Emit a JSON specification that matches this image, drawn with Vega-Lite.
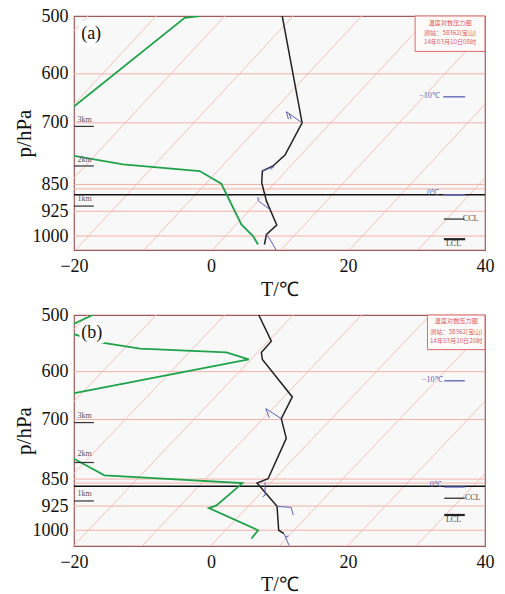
{
"$schema": "https://vega.github.io/schema/vega-lite/v6.json",
"padding": {"left": 12, "top": 6, "right": 5, "bottom": 0},
"spacing": 5,
"background": "white",
"config": {
 "view": {"fill": "#f8f8f8", "stroke": "#a05a5a", "strokeWidth": 1.2},
 "axis": {"labelFont": "Liberation Serif", "titleFont": "Liberation Serif"}
},
"datasets": {
 "iso": [
  {"k": -50, "i": 0, "T": -50, "p": 1050}, {"k": -50, "i": 1, "T": -18, "p": 500},
  {"k": -40, "i": 0, "T": -40, "p": 1050}, {"k": -40, "i": 1, "T": -8, "p": 500},
  {"k": -30, "i": 0, "T": -30, "p": 1050}, {"k": -30, "i": 1, "T": 2, "p": 500},
  {"k": -20, "i": 0, "T": -20, "p": 1050}, {"k": -20, "i": 1, "T": 12, "p": 500},
  {"k": -10, "i": 0, "T": -10, "p": 1050}, {"k": -10, "i": 1, "T": 22, "p": 500},
  {"k": 0, "i": 0, "T": 0, "p": 1050}, {"k": 0, "i": 1, "T": 32, "p": 500},
  {"k": 10, "i": 0, "T": 10, "p": 1050}, {"k": 10, "i": 1, "T": 42, "p": 500},
  {"k": 20, "i": 0, "T": 20, "p": 1050}, {"k": 20, "i": 1, "T": 52, "p": 500},
  {"k": 30, "i": 0, "T": 30, "p": 1050}, {"k": 30, "i": 1, "T": 62, "p": 500}
 ],
 "a_h": [
  {"k": 600, "i": 0, "T": -20, "p": 600}, {"k": 600, "i": 1, "T": 40, "p": 600},
  {"k": 700, "i": 0, "T": -20, "p": 700}, {"k": 700, "i": 1, "T": 40, "p": 700},
  {"k": 850, "i": 0, "T": -20, "p": 850}, {"k": 850, "i": 1, "T": 40, "p": 850},
  {"k": 862, "i": 0, "T": -20, "p": 862}, {"k": 862, "i": 1, "T": 40, "p": 862},
  {"k": 925, "i": 0, "T": -20, "p": 925}, {"k": 925, "i": 1, "T": 40, "p": 925},
  {"k": 1000, "i": 0, "T": -20, "p": 1000}, {"k": 1000, "i": 1, "T": 40, "p": 1000}
 ],
 "b_h": [
  {"k": 600, "i": 0, "T": -20, "p": 600}, {"k": 600, "i": 1, "T": 40, "p": 600},
  {"k": 700, "i": 0, "T": -20, "p": 700}, {"k": 700, "i": 1, "T": 40, "p": 700},
  {"k": 848, "i": 0, "T": -20, "p": 848}, {"k": 848, "i": 1, "T": 40, "p": 848},
  {"k": 859, "i": 0, "T": -20, "p": 859}, {"k": 859, "i": 1, "T": 40, "p": 859},
  {"k": 925, "i": 0, "T": -20, "p": 925}, {"k": 925, "i": 1, "T": 40, "p": 925},
  {"k": 1000, "i": 0, "T": -20, "p": 1000}, {"k": 1000, "i": 1, "T": 40, "p": 1000}
 ],
 "a_frz": [{"i": 0, "T": -20, "p": 878}, {"i": 1, "T": 40, "p": 878}],
 "b_frz": [{"i": 0, "T": -20, "p": 868}, {"i": 1, "T": 40, "p": 868}],
 "a_t": [
  {"i": 1, "T": 10.4, "p": 500}, {"i": 2, "T": 13.3, "p": 700}, {"i": 3, "T": 10.8, "p": 775},
  {"i": 4, "T": 9.05, "p": 802}, {"i": 5, "T": 7.5, "p": 815}, {"i": 6, "T": 7.4, "p": 845},
  {"i": 7, "T": 8.1, "p": 896}, {"i": 8, "T": 9.6, "p": 966}, {"i": 9, "T": 8.1, "p": 995},
  {"i": 10, "T": 7.8, "p": 1027}
 ],
 "a_td": [
  {"i": 1, "T": 6.86, "p": 1027}, {"i": 2, "T": 6.13, "p": 1000}, {"i": 3, "T": 4.43, "p": 964},
  {"i": 4, "T": 2.24, "p": 876}, {"i": 5, "T": 1.5, "p": 848}, {"i": 6, "T": -1.65, "p": 815},
  {"i": 7, "T": -12.85, "p": 798}, {"i": 8, "T": -20, "p": 777}, {"i": 9, "T": -32, "p": 730},
  {"i": 10, "T": -20, "p": 665}, {"i": 11, "T": -3.84, "p": 503}, {"i": 12, "T": -1.65, "p": 500}
 ],
 "b_t": [
  {"i": 1, "T": 6.97, "p": 500}, {"i": 2, "T": 8.81, "p": 544}, {"i": 3, "T": 7.35, "p": 564},
  {"i": 4, "T": 7.5, "p": 577}, {"i": 5, "T": 11.87, "p": 651}, {"i": 6, "T": 10.26, "p": 698},
  {"i": 7, "T": 10.99, "p": 744}, {"i": 8, "T": 8.33, "p": 847}, {"i": 9, "T": 6.72, "p": 859},
  {"i": 10, "T": 7.35, "p": 873}, {"i": 11, "T": 9.64, "p": 926}, {"i": 12, "T": 9.88, "p": 1000},
  {"i": 13, "T": 10.66, "p": 1011}
 ],
 "b_td": [
  {"i": 1, "T": 5.9, "p": 1027}, {"i": 2, "T": 6.87, "p": 1000}, {"i": 3, "T": -0.31, "p": 931},
  {"i": 4, "T": 0.8, "p": 923}, {"i": 5, "T": 3.71, "p": 874}, {"i": 6, "T": 4.58, "p": 859},
  {"i": 7, "T": -15.56, "p": 838}, {"i": 8, "T": -19.93, "p": 795}, {"i": 9, "T": -32, "p": 720},
  {"i": 10, "T": -19.93, "p": 643}, {"i": 11, "T": 5.51, "p": 577}, {"i": 12, "T": 2.25, "p": 564},
  {"i": 13, "T": -10.36, "p": 557}, {"i": 14, "T": -15.7, "p": 547}, {"i": 15, "T": -22, "p": 525},
  {"i": 16, "T": -17.26, "p": 500}
 ],
 "a_barb": [
  {"id": "a1", "i": 1, "T": 13.3, "p": 700}, {"id": "a1", "i": 2, "T": 11.0, "p": 676}, {"id": "a1", "i": 3, "T": 11.3, "p": 692},
  {"id": "a1b", "i": 1, "T": 11.4, "p": 680}, {"id": "a1b", "i": 2, "T": 11.7, "p": 692},
  {"id": "a2", "i": 1, "T": 7.5, "p": 815}, {"id": "a2", "i": 2, "T": 9.2, "p": 803}, {"id": "a2", "i": 3, "T": 8.7, "p": 811},
  {"id": "a3", "i": 1, "T": 6.86, "p": 884}, {"id": "a3", "i": 2, "T": 6.9, "p": 895}, {"id": "a3", "i": 3, "T": 8.6, "p": 920},
  {"id": "a4", "i": 1, "T": 8.08, "p": 995}, {"id": "a4", "i": 2, "T": 8.6, "p": 1010}, {"id": "a4", "i": 3, "T": 9.5, "p": 1045}
 ],
 "b_barb": [
  {"id": "b1", "i": 1, "T": 10.26, "p": 698}, {"id": "b1", "i": 2, "T": 8.0, "p": 676}, {"id": "b1", "i": 3, "T": 8.5, "p": 696},
  {"id": "b2", "i": 1, "T": 7.9, "p": 857}, {"id": "b2", "i": 2, "T": 7.9, "p": 893}, {"id": "b2", "i": 3, "T": 7.5, "p": 898},
  {"id": "b3", "i": 1, "T": 9.64, "p": 926}, {"id": "b3", "i": 2, "T": 11.7, "p": 929}, {"id": "b3", "i": 3, "T": 12.0, "p": 952},
  {"id": "b4", "i": 1, "T": 10.66, "p": 1011}, {"id": "b4", "i": 2, "T": 11.4, "p": 1050},
  {"id": "b4b", "i": 1, "T": 10.9, "p": 1022}, {"id": "b4b", "i": 2, "T": 11.3, "p": 1018}
 ],
 "a_km": [
  {"id": "3", "i": 0, "T": -20, "p": 708}, {"id": "3", "i": 1, "T": -17.1, "p": 708},
  {"id": "2", "i": 0, "T": -20, "p": 802}, {"id": "2", "i": 1, "T": -17.1, "p": 802},
  {"id": "1", "i": 0, "T": -20, "p": 910}, {"id": "1", "i": 1, "T": -17.1, "p": 910}
 ],
 "b_km": [
  {"id": "3", "i": 0, "T": -20, "p": 707}, {"id": "3", "i": 1, "T": -17.1, "p": 707},
  {"id": "2", "i": 0, "T": -20, "p": 804}, {"id": "2", "i": 1, "T": -17.1, "p": 804},
  {"id": "1", "i": 0, "T": -20, "p": 910}, {"id": "1", "i": 1, "T": -17.1, "p": 910}
 ],
 "a_kmt": [{"T": -19.5, "p": 693, "t": "3km"}, {"T": -19.5, "p": 787, "t": "2km"}, {"T": -19.5, "p": 889, "t": "1km"}],
 "b_kmt": [{"T": -19.5, "p": 692, "t": "3km"}, {"T": -19.5, "p": 783, "t": "2km"}, {"T": -19.5, "p": 889, "t": "1km"}],
 "a_lvl": [
  {"id": "m10", "i": 0, "T": 33.9, "p": 645}, {"id": "m10", "i": 1, "T": 37.1, "p": 645},
  {"id": "z", "i": 0, "T": 33.9, "p": 878}, {"id": "z", "i": 1, "T": 37.1, "p": 878}
 ],
 "b_lvl": [
  {"id": "m10", "i": 0, "T": 34.05, "p": 618}, {"id": "m10", "i": 1, "T": 37.05, "p": 618},
  {"id": "z", "i": 0, "T": 34.05, "p": 870}, {"id": "z", "i": 1, "T": 37.05, "p": 870}
 ],
 "a_lvlt": [{"T": 31.9, "p": 643, "t": "−10℃"}, {"T": 32.4, "p": 874, "t": "0℃"}],
 "b_lvlt": [{"T": 32.3, "p": 617, "t": "−10℃"}, {"T": 32.8, "p": 865, "t": "0℃"}],
 "a_ccl": [{"i": 0, "T": 34.0, "p": 948}, {"i": 1, "T": 37.0, "p": 948}],
 "a_lcl": [{"i": 0, "T": 34.0, "p": 1010}, {"i": 1, "T": 37.1, "p": 1010}],
 "b_ccl": [{"i": 0, "T": 34.05, "p": 902}, {"i": 1, "T": 37.05, "p": 902}],
 "b_lcl": [{"i": 0, "T": 34.05, "p": 952}, {"i": 1, "T": 37.05, "p": 952}],
 "a_clt": [{"T": 37.9, "p": 947, "t": "CCL"}, {"T": 35.4, "p": 1025, "t": "LCL"}],
 "b_clt": [{"T": 38.2, "p": 902, "t": "CCL"}, {"T": 35.4, "p": 967, "t": "LCL"}],
 "a_box": [{"T": 29.8, "T2": 40, "p": 500, "p2": 559}],
 "b_box": [{"T": 31.6, "T2": 40, "p": 500, "p2": 559}],
 "a_boxt": [{"T": 34.9, "p": 510.5, "t": "温度对数压力图"}, {"T": 34.9, "p": 527.5, "t": "测站：58362(宝山)"}, {"T": 34.9, "p": 543.5, "t": "14年03月10日08时"}],
 "b_boxt": [{"T": 35.8, "p": 510.5, "t": "温度对数压力图"}, {"T": 35.8, "p": 527.5, "t": "测站：58362(宝山)"}, {"T": 35.8, "p": 543.5, "t": "14年03月10日20时"}],
 "a_lab": [{"T": -19.3, "T2": -15.8, "p": 508, "p2": 551, "t": "(a)", "Tc": -17.5, "pc": 529}],
 "b_lab": [{"T": -19.2, "T2": -15.6, "p": 514, "p2": 547, "t": "(b)", "Tc": -17.4, "pc": 530}]
},
"vconcat": [
 {
  "width": 411, "height": 234,
  "encoding": {
   "x": {"field": "T", "type": "quantitative", "scale": {"domain": [-20, 40], "nice": false, "zero": false}, "axis": {"values": [-20, 0, 20, 40], "title": "T/℃", "labelFont": "Liberation Serif", "labelFontSize": 18, "labelColor": "#111111", "labelFlush": false, "titleFont": "Liberation Serif", "titleFontSize": 20, "titleFontWeight": "normal", "titleColor": "#111111", "ticks": false, "domain": false, "grid": false, "labelPadding": 7, "titlePadding": 4}},
   "y": {"field": "p", "type": "quantitative", "scale": {"type": "log", "domain": [500, 1045], "nice": false, "reverse": true}, "axis": {"values": [500, 600, 700, 850, 925, 1000], "format": "d", "title": "p/hPa", "labelFont": "Liberation Serif", "labelFontSize": 18, "labelColor": "#111111", "labelFlush": false, "titleFont": "Liberation Serif", "titleFontSize": 21, "titleFontWeight": "normal", "titleColor": "#111111", "ticks": false, "domain": false, "grid": false, "labelPadding": 6, "titlePadding": -2}}
  },
  "layer": [
   {"data": {"name": "iso"}, "mark": {"type": "line", "clip": true, "color": "#f4c0b6", "strokeWidth": 1}, "encoding": {"detail": {"field": "k"}, "order": {"field": "i"}}},
   {"data": {"name": "a_h"}, "mark": {"type": "line", "clip": true, "color": "#f2b2a8", "strokeWidth": 1}, "encoding": {"detail": {"field": "k"}, "order": {"field": "i"}}},
   {"data": {"name": "a_frz"}, "mark": {"type": "line", "clip": true, "color": "#111111", "strokeWidth": 1.5}, "encoding": {"order": {"field": "i"}}},
   {"data": {"name": "a_td"}, "mark": {"type": "line", "clip": true, "color": "#1fa34a", "strokeWidth": 1.8}, "encoding": {"order": {"field": "i"}}},
   {"data": {"name": "a_t"}, "mark": {"type": "line", "clip": true, "color": "#222222", "strokeWidth": 1.5}, "encoding": {"order": {"field": "i"}}},
   {"data": {"name": "a_barb"}, "mark": {"type": "line", "clip": true, "color": "#5a63b8", "strokeWidth": 1}, "encoding": {"detail": {"field": "id"}, "order": {"field": "i"}}},
   {"data": {"name": "a_km"}, "mark": {"type": "line", "clip": true, "color": "#333333", "strokeWidth": 1.2}, "encoding": {"detail": {"field": "id"}, "order": {"field": "i"}}},
   {"data": {"name": "a_kmt"}, "mark": {"type": "text", "align": "left", "font": "Liberation Serif", "fontSize": 8, "color": "#555555"}, "encoding": {"text": {"field": "t"}}},
   {"data": {"name": "a_lvl"}, "mark": {"type": "line", "color": "#5a63b8", "strokeWidth": 1.3}, "encoding": {"detail": {"field": "id"}, "order": {"field": "i"}}},
   {"data": {"name": "a_lvlt"}, "mark": {"type": "text", "font": "Liberation Serif", "fontSize": 8, "color": "#5a63b8"}, "encoding": {"text": {"field": "t"}}},
   {"data": {"name": "a_ccl"}, "mark": {"type": "line", "color": "#222222", "strokeWidth": 1.2}, "encoding": {"order": {"field": "i"}}},
   {"data": {"name": "a_lcl"}, "mark": {"type": "line", "color": "#222222", "strokeWidth": 2.2}, "encoding": {"order": {"field": "i"}}},
   {"data": {"name": "a_clt"}, "mark": {"type": "text", "font": "Liberation Serif", "fontSize": 8, "color": "#444444"}, "encoding": {"text": {"field": "t"}}},
   {"data": {"name": "a_box"}, "mark": {"type": "rect", "fill": "#fdfafa", "stroke": "#e06a6a", "strokeWidth": 1}, "encoding": {"x2": {"field": "T2"}, "y2": {"field": "p2"}}},
   {"data": {"name": "a_boxt"}, "mark": {"type": "text", "font": "Noto Sans CJK SC", "fontSize": 6.2, "color": "#e05a5a"}, "encoding": {"text": {"field": "t"}}},
   {"data": {"name": "a_lab"}, "mark": {"type": "rect", "fill": "#ffffff"}, "encoding": {"x2": {"field": "T2"}, "y2": {"field": "p2"}}},
   {"data": {"name": "a_lab"}, "mark": {"type": "text", "font": "Liberation Serif", "fontSize": 18, "color": "#111111"}, "encoding": {"x": {"field": "Tc", "type": "quantitative"}, "y": {"field": "pc", "type": "quantitative"}, "text": {"field": "t"}}}
  ]
 },
 {
  "width": 411, "height": 231,
  "encoding": {
   "x": {"field": "T", "type": "quantitative", "scale": {"domain": [-20, 40], "nice": false, "zero": false}, "axis": {"values": [-20, 0, 20, 40], "title": "T/℃", "labelFont": "Liberation Serif", "labelFontSize": 18, "labelColor": "#111111", "labelFlush": false, "titleFont": "Liberation Serif", "titleFontSize": 20, "titleFontWeight": "normal", "titleColor": "#111111", "ticks": false, "domain": false, "grid": false, "labelPadding": 7, "titlePadding": 3}},
   "y": {"field": "p", "type": "quantitative", "scale": {"type": "log", "domain": [500, 1052], "nice": false, "reverse": true}, "axis": {"values": [500, 600, 700, 850, 925, 1000], "format": "d", "title": "p/hPa", "labelFont": "Liberation Serif", "labelFontSize": 18, "labelColor": "#111111", "labelFlush": false, "titleFont": "Liberation Serif", "titleFontSize": 21, "titleFontWeight": "normal", "titleColor": "#111111", "ticks": false, "domain": false, "grid": false, "labelPadding": 6, "titlePadding": -2}}
  },
  "layer": [
   {"data": {"name": "iso"}, "mark": {"type": "line", "clip": true, "color": "#f4c0b6", "strokeWidth": 1}, "encoding": {"detail": {"field": "k"}, "order": {"field": "i"}}},
   {"data": {"name": "b_h"}, "mark": {"type": "line", "clip": true, "color": "#f2b2a8", "strokeWidth": 1}, "encoding": {"detail": {"field": "k"}, "order": {"field": "i"}}},
   {"data": {"name": "b_frz"}, "mark": {"type": "line", "clip": true, "color": "#111111", "strokeWidth": 1.5}, "encoding": {"order": {"field": "i"}}},
   {"data": {"name": "b_td"}, "mark": {"type": "line", "clip": true, "color": "#1fa34a", "strokeWidth": 1.8}, "encoding": {"order": {"field": "i"}}},
   {"data": {"name": "b_t"}, "mark": {"type": "line", "clip": true, "color": "#222222", "strokeWidth": 1.5}, "encoding": {"order": {"field": "i"}}},
   {"data": {"name": "b_barb"}, "mark": {"type": "line", "clip": true, "color": "#5a63b8", "strokeWidth": 1}, "encoding": {"detail": {"field": "id"}, "order": {"field": "i"}}},
   {"data": {"name": "b_km"}, "mark": {"type": "line", "clip": true, "color": "#333333", "strokeWidth": 1.2}, "encoding": {"detail": {"field": "id"}, "order": {"field": "i"}}},
   {"data": {"name": "b_kmt"}, "mark": {"type": "text", "align": "left", "font": "Liberation Serif", "fontSize": 8, "color": "#555555"}, "encoding": {"text": {"field": "t"}}},
   {"data": {"name": "b_lvl"}, "mark": {"type": "line", "color": "#5a63b8", "strokeWidth": 1.3}, "encoding": {"detail": {"field": "id"}, "order": {"field": "i"}}},
   {"data": {"name": "b_lvlt"}, "mark": {"type": "text", "font": "Liberation Serif", "fontSize": 8, "color": "#5a63b8"}, "encoding": {"text": {"field": "t"}}},
   {"data": {"name": "b_ccl"}, "mark": {"type": "line", "color": "#222222", "strokeWidth": 1.2}, "encoding": {"order": {"field": "i"}}},
   {"data": {"name": "b_lcl"}, "mark": {"type": "line", "color": "#222222", "strokeWidth": 2.2}, "encoding": {"order": {"field": "i"}}},
   {"data": {"name": "b_clt"}, "mark": {"type": "text", "font": "Liberation Serif", "fontSize": 8, "color": "#444444"}, "encoding": {"text": {"field": "t"}}},
   {"data": {"name": "b_box"}, "mark": {"type": "rect", "fill": "#fdfafa", "stroke": "#e06a6a", "strokeWidth": 1}, "encoding": {"x2": {"field": "T2"}, "y2": {"field": "p2"}}},
   {"data": {"name": "b_boxt"}, "mark": {"type": "text", "font": "Noto Sans CJK SC", "fontSize": 6.2, "color": "#e05a5a"}, "encoding": {"text": {"field": "t"}}},
   {"data": {"name": "b_lab"}, "mark": {"type": "rect", "fill": "#ffffff"}, "encoding": {"x2": {"field": "T2"}, "y2": {"field": "p2"}}},
   {"data": {"name": "b_lab"}, "mark": {"type": "text", "font": "Liberation Serif", "fontSize": 18, "color": "#111111"}, "encoding": {"x": {"field": "Tc", "type": "quantitative"}, "y": {"field": "pc", "type": "quantitative"}, "text": {"field": "t"}}}
  ]
 }
]
}
